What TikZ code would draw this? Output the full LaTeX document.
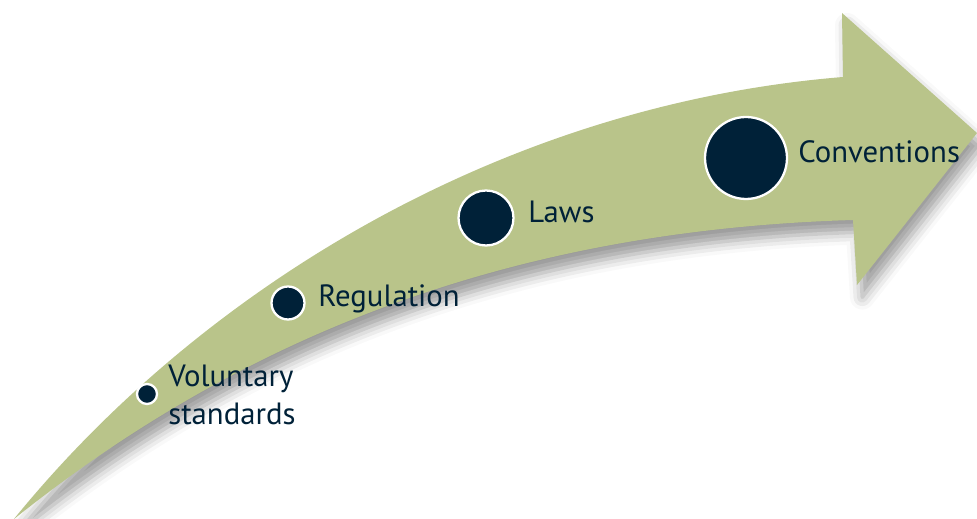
\documentclass[tikz,border=0pt]{standalone}
\usepackage{fontspec}
\setmainfont{PT Sans}
\usetikzlibrary{shadows.blur}

\definecolor{olive}{RGB}{185,196,138}
\definecolor{navy}{RGB}{0,33,56}

\tikzset{
    dot/.style={shape=circle,fill=navy,draw=white,line width=1.3pt,inner sep=0pt},
    lbl/.style={anchor=base west,inner sep=0pt,text=navy,align=left,
        font=\fontsize{17.5}{22}\selectfont}
}

\begin{document}
\begin{tikzpicture}[x=0.02cm,y=-0.02cm]
    \useasboundingbox (0,0) rectangle (977,519);
    \clip (0,0) rectangle (977,519);
    % the arrow
    \path[fill=olive,blur shadow={shadow xshift=3pt,shadow yshift=-7pt,shadow blur radius=7pt,shadow opacity=40}]
        (14,519) .. controls (200,290) and (500,105) .. (843,77) -- (842,13) -- (977,133)
        -- (857,285) -- (853,220) .. controls (520,230) and (250,330) .. (14,519) -- cycle;
    % steps
    \node[dot,minimum size=0.4cm] (V) at (147,394) {};
    \node[dot,minimum size=0.66cm] (R) at (288,303) {};
    \node[dot,minimum size=1.1cm] (L) at (486,218) {};
    \node[dot,minimum size=1.64cm] (C) at (746,158) {};
    \node[lbl] (Vt) at (168,425) {Voluntary\\standards};
    \node[lbl] (Rt) at (318,307) {Regulation};
    \node[lbl] (Lt) at (528,223) {Laws};
    \node[lbl] (Ct) at (798,163) {Conventions};
\end{tikzpicture}
\end{document}
